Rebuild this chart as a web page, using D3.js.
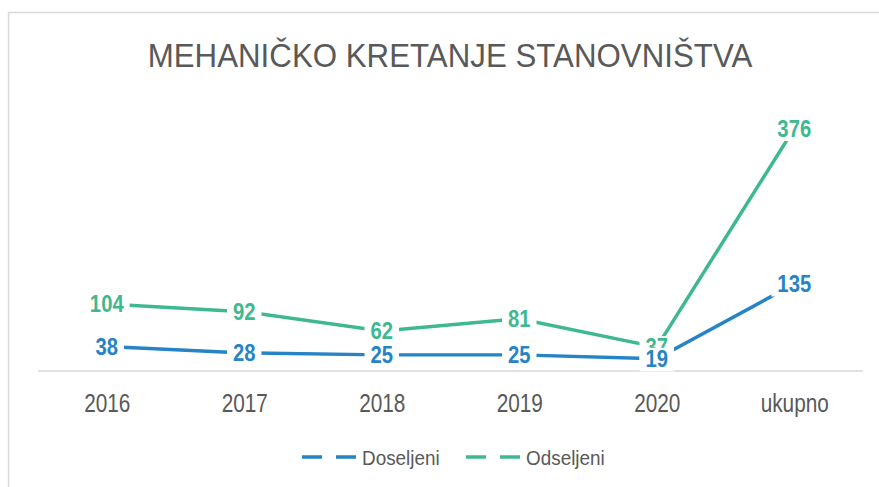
<!DOCTYPE html>
<html>
<head>
<meta charset="utf-8">
<script src="https://cdn.jsdelivr.net/npm/d3@7"></script>
<style>
    body { margin: 0; background: #fff; }
    svg { display: block; }
</style>
</head>
<body>
<svg width="879" height="487"></svg>
<script>
var categories = ["2016", "2017", "2018", "2019", "2020", "ukupno"]
var doseljeni = [38, 28, 25, 25, 19, 135]
var odseljeni = [104, 92, 62, 81, 37, 376]
var series_names = ["Doseljeni", "Odseljeni"]
var series_colors = ["#2683C6", "#3EB98F"]

var font = "'Liberation Sans', Arial, sans-serif"

var svg = d3.select("svg")

// chart area frame (drawn first so everything sits on top)
svg.append("rect")
    .attr("x", 8.5).attr("y", 12.5)
    .attr("width", 900).attr("height", 600)
    .attr("fill", "#fff")
    .attr("stroke", "#d9d9d9")
    .attr("stroke-width", 1.5)

function setup_svg() {
    var margin = { top: 113, right: 16, bottom: 116, left: 38 },
        width = 879 - margin.left - margin.right,
        height = 487 - margin.top - margin.bottom,
        g = svg.append("g").attr("transform", "translate(" + margin.left + "," + margin.top + ")");
    return { g, width, height, margin };
}

var { g, width, height, margin } = setup_svg();

svg.append("text")
    .attr("transform", "translate(450,67) scale(0.92,1)")
    .attr("text-anchor", "middle")
    .attr("font-family", font)
    .attr("font-size", 34)
    .attr("fill", "#595959")
    .text("MEHANIČKO KRETANJE STANOVNIŠTVA")

var x_scale = d3.scalePoint()
    .domain(categories)
    .range([0, width])
    .padding(0.5)

var y_scale = d3.scaleLinear()
    .domain([0, 400])
    .range([height, 0])

// baseline
g.append("line")
    .attr("x1", 0).attr("x2", width)
    .attr("y1", y_scale(0)).attr("y2", y_scale(0))
    .attr("stroke", "#d9d9d9")
    .attr("stroke-width", 1.5)

var x_axis = g.append("g")
    .attr("transform", "translate(0," + height + ")")
    .call(d3.axisBottom(x_scale).tickSize(0).tickPadding(23))
x_axis.select(".domain").remove()
x_axis.selectAll("text")
    .attr("font-family", font)
    .attr("font-size", 26)
    .attr("fill", "#595959")
    .attr("transform", "scale(0.8,1)")

var all_series = [doseljeni, odseljeni]

var line = d3.line()
    .x(function (d, i) { return x_scale(categories[i]); })
    .y(function (d) { return y_scale(d); })

for (var s = 0; s < all_series.length; s++) {
    g.append("path")
        .datum(all_series[s])
        .attr("fill", "none")
        .attr("stroke", series_colors[s])
        .attr("stroke-width", 3.5)
        .attr("d", line)
}

// data labels, green first so blue sits on top
var label_sx = 0.88
var label_order = [1, 0]
label_order.forEach(function (s) {
    var lg = g.append("g")
    var items = lg.selectAll("g")
        .data(all_series[s])
        .enter().append("g")
        .attr("transform", function (d, i) {
            return "translate(" + x_scale(categories[i]) + "," + y_scale(d) + ") scale(" + label_sx + ",1)";
        })
    var texts = items.append("text")
        .attr("text-anchor", "middle")
        .attr("dy", "0.36em")
        .attr("font-family", font)
        .attr("font-weight", "bold")
        .attr("font-size", 23)
        .attr("fill", series_colors[s])
        .text(function (d) { return d; })
    texts.each(function () {
        var b = this.getBBox()
        var pad = 6 / label_sx
        d3.select(this.parentNode).insert("rect", "text")
            .attr("x", b.x - pad).attr("y", b.y + 2)
            .attr("width", b.width + 2 * pad).attr("height", b.height - 3)
            .attr("fill", "#fff")
    })
})

// legend
var legend_x = [302, 466]
series_names.forEach(function (name, i) {
    var lg = svg.append("g")
        .attr("transform", "translate(" + legend_x[i] + ",457)")
    lg.append("line")
        .attr("x1", 0).attr("x2", 55)
        .attr("stroke", series_colors[i])
        .attr("stroke-width", 3.5)
        .attr("stroke-dasharray", "20,14")
    lg.append("text")
        .attr("transform", "translate(60,0) scale(0.9,1)")
        .attr("dy", "0.36em")
        .attr("font-family", font)
        .attr("font-size", 21)
        .attr("fill", "#595959")
        .text(name)
})
</script>
</body>
</html>
